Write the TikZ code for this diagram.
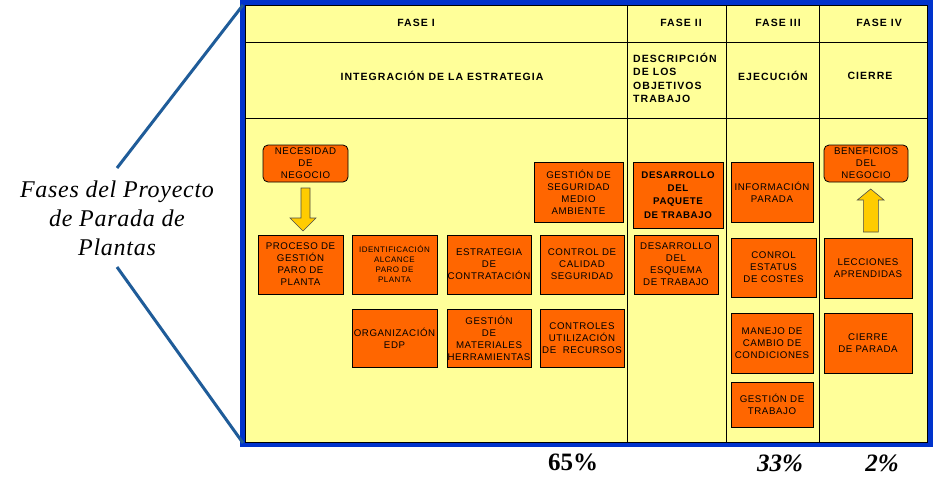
\documentclass[tikz,border=0pt]{standalone}
\usepackage{fontspec}
\setmainfont{Liberation Sans}
\newfontfamily\boxfont[LetterSpace=6]{Liberation Sans}
\newfontfamily\headfont[LetterSpace=10]{Liberation Sans}
\newfontfamily\titlefont{Liberation Serif}
\newfontfamily\titlefontwide[LetterSpace=3]{Liberation Serif}
\definecolor{yel}{HTML}{FFFF99}
\definecolor{orng}{HTML}{FF6600}
\definecolor{frameblue}{HTML}{0033CC}
\definecolor{lineblue}{HTML}{1F5C99}
\definecolor{arrowyel}{HTML}{FFCC00}
\tikzset{
  obox/.style={draw=black, fill=orng, line width=0.8pt, inner sep=0pt, align=center,
    font=\boxfont\fontsize{9.7}{12}\selectfont},
  rbox/.style={obox, rounded corners=5pt},
  headtxt/.style={inner sep=0pt, align=center, font=\headfont\bfseries\fontsize{10.5}{13.5}\selectfont},
  blockarrow/.style={draw=black!70, fill=arrowyel, line width=0.6pt},
  pct/.style={inner sep=0pt, font=\titlefont\bfseries\fontsize{25}{25}\selectfont},
  gridline/.style={draw=black, line width=1pt},
  zoomline/.style={draw=lineblue, line width=3pt}
}
\begin{document}
\begin{tikzpicture}[x=1pt,y=-1pt]
\useasboundingbox (0,0) rectangle (933,501);
\fill[white] (0,0) rectangle (933,501);
% frame
\fill[frameblue] (240,0) rectangle (933,447);
\filldraw[fill=yel, gridline] (245,5) rectangle (927,442);
\draw[gridline] (245,42.5) -- (927,42.5);
\draw[gridline] (245,118) -- (927,118);
\draw[gridline] (627.5,5) -- (627.5,442);
\draw[gridline] (726.5,5) -- (726.5,442);
\draw[gridline] (819.5,5) -- (819.5,442);
% headers
\node[headtxt] (f1) at (416,23) {FASE I};
\node[headtxt] (f2) at (681,23) {FASE II};
\node[headtxt] (f3) at (778,23) {FASE III};
\node[headtxt] (f4) at (879,23) {FASE IV};
\node[headtxt] (h1) at (442,76) {INTEGRACIÓN DE LA ESTRATEGIA};
\node[headtxt, align=left, anchor=west] (h2) at (633,78) {DESCRIPCIÓN\\DE LOS\\OBJETIVOS\\TRABAJO};
\node[headtxt] (h3) at (773,76) {EJECUCIÓN};
\node[headtxt] (h4) at (870,76) {CIERRE};
% phase I boxes
\node[rbox, minimum width=85pt, minimum height=37pt] (neg) at (305.5,163.5) {NECESIDAD\\DE\\NEGOCIO};
\node[obox, minimum width=85pt, minimum height=59pt] (proc) at (300.5,264.5) {PROCESO DE\\GESTIÓN\\PARO DE\\PLANTA};
\node[obox, minimum width=85pt, minimum height=59pt, font=\boxfont\fontsize{8}{10}\selectfont] (ident) at (394.5,264.5) {IDENTIFICACIÓN\\ALCANCE\\PARO DE\\PLANTA};
\node[obox, minimum width=84pt, minimum height=59pt] (estr) at (489,264.5) {ESTRATEGIA\\DE\\CONTRATACIÓN};
\node[obox, minimum width=84pt, minimum height=59pt] (ctrl) at (582,264.5) {CONTROL DE\\CALIDAD\\SEGURIDAD};
\node[obox, minimum width=89pt, minimum height=60pt] (gsma) at (578.5,192) {GESTIÓN DE\\SEGURIDAD\\MEDIO\\AMBIENTE};
\node[obox, minimum width=85pt, minimum height=58pt] (org) at (394.5,338) {ORGANIZACIÓN\\EDP};
\node[obox, minimum width=84pt, minimum height=58pt] (gmat) at (489,338) {GESTIÓN\\DE\\MATERIALES\\HERRAMIENTAS};
\node[obox, minimum width=84pt, minimum height=58pt] (cutil) at (582,338) {CONTROLES\\UTILIZACIÓN\\DE \ RECURSOS};
% phase II
\node[obox, minimum width=90pt, minimum height=66pt, font=\boxfont\bfseries\fontsize{9.7}{13.3}\selectfont] (dpaq) at (678,195) {DESARROLLO\\DEL\\PAQUETE\\DE TRABAJO};
\node[obox, minimum width=84pt, minimum height=59pt] (desq) at (676,264.5) {DESARROLLO\\DEL\\ESQUEMA\\DE TRABAJO};
% phase III
\node[obox, minimum width=82pt, minimum height=60pt] (info) at (772,192) {INFORMACIÓN\\PARADA};
\node[obox, minimum width=85pt, minimum height=59pt] (conrol) at (773.5,267.5) {CONROL\\ESTATUS\\DE COSTES};
\node[obox, minimum width=82pt, minimum height=60pt] (manejo) at (772,343) {MANEJO DE\\CAMBIO DE\\CONDICIONES};
\node[obox, minimum width=82pt, minimum height=45pt] (gtrab) at (772,404.5) {GESTIÓN DE\\TRABAJO};
% phase IV
\node[rbox, minimum width=84pt, minimum height=37pt] (benef) at (866,163.5) {BENEFICIOS\\DEL\\NEGOCIO};
\node[obox, minimum width=88pt, minimum height=60pt] (lecc) at (868,268) {LECCIONES\\APRENDIDAS};
\node[obox, minimum width=88pt, minimum height=60pt] (cierre) at (868,343) {CIERRE\\DE PARADA};
% block arrows
\draw[blockarrow] (301,188) -- (310,188) -- (310,218) -- (316,218) -- (303,231) -- (290,218) -- (301,218) -- cycle;
\draw[blockarrow] (863.3,232) -- (878.3,232) -- (878.3,200) -- (884,200) -- (870.7,189) -- (857.3,200) -- (863.3,200) -- cycle;
% title and zoom lines
\node[inner sep=0pt, align=center, font=\titlefontwide\itshape\fontsize{24}{29}\selectfont] (title) at (117,218) {Fases del Proyecto\\de Parada de\\Plantas};
\coordinate (ttop) at (117,168);
\coordinate (tbot) at (117,267);
\coordinate (ctop) at (243,5);
\coordinate (cbot) at (243,443);
\draw[zoomline] (ttop) -- (ctop);
\draw[zoomline] (tbot) -- (cbot);
% percentages
\node[pct] (p1) at (573,462) {65\%};
\node[pct, font=\titlefont\bfseries\itshape\fontsize{25}{25}\selectfont] (p2) at (780,463) {33\%};
\node[pct, font=\titlefont\bfseries\itshape\fontsize{25}{25}\selectfont] (p3) at (882,463) {2\%};
\end{tikzpicture}
\end{document}
